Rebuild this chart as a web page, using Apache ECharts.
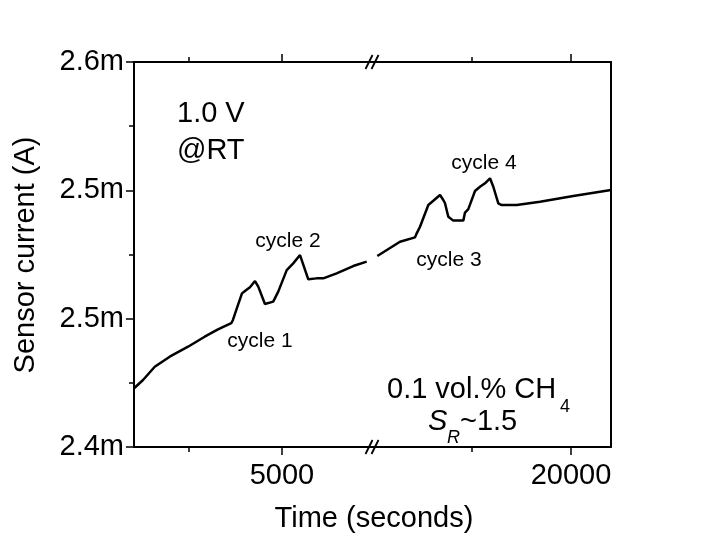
<!DOCTYPE html>
<html>
<head>
<meta charset="utf-8">
<script src="https://cdn.jsdelivr.net/npm/echarts@6/dist/echarts.min.js"></script>
<style>
html,body{margin:0;padding:0;background:#fff;}
#chart{width:707px;height:539px;}
</style>
</head>
<body>
<div id="chart"></div>
<script>
// ---- data (time in seconds, current in mA) ----
const timeLeft = [3410, 3506, 3632, 3793, 3990, 4169, 4312, 4455, 4473, 4509, 4570, 4616, 4656, 4710, 4745, 4817, 4906, 4925, 4960, 5051, 5121, 5194, 5283, 5373, 5444, 5588, 5766, 5911];
const currentLeft = [2.4305, 2.4348, 2.4417, 2.4469, 2.4521, 2.4573, 2.4611, 2.4643, 2.4660, 2.4712, 2.4798, 2.4816, 2.4830, 2.4862, 2.4833, 2.4743, 2.4755, 2.4764, 2.4807, 2.4919, 2.4954, 2.4997, 2.4871, 2.4876, 2.4876, 2.4902, 2.4940, 2.4963];
const timeRight = [10218, 11364, 12122, 12208, 12375, 12794, 13046, 13385, 13551, 13637, 13804, 14056, 14561, 14647, 14814, 15152, 15404, 15657, 15910, 16076, 16329, 16500, 17258, 18435, 20116, 22020];
const currentRight = [2.4992, 2.5066, 2.5089, 2.5110, 2.5144, 2.5257, 2.5279, 2.5309, 2.5283, 2.5266, 2.5196, 2.5176, 2.5176, 2.5218, 2.5236, 2.5330, 2.5352, 2.5370, 2.5396, 2.5352, 2.5266, 2.5257, 2.5257, 2.5274, 2.5304, 2.5335];

const xRangeLeft = [3409, 5968];
const xRangeRight = [9950, 22020];
const xMajorLeft = [5000];
const xMinorLeft = [4000];
const xMajorRight = [20000];
const xMinorRight = [15000];
const yRange = [2.4, 2.6];
const yMajor = [2.4, 2.4 + 0.2 / 3, 2.4 + 0.4 / 3, 2.6];
const yMinor = [2.4 + 0.1 / 3, 2.5, 2.4 + 0.5 / 3];

const annotations = [
  { text: '1.0 V', x: 177, y: 114, size: 29, align: 'left' },
  { text: '@RT', x: 177, y: 151, size: 29, align: 'left' },
  { text: 'cycle 1', x: 260, y: 341, size: 21, align: 'center' },
  { text: 'cycle 2', x: 288, y: 241, size: 21, align: 'center' },
  { text: 'cycle 3', x: 449, y: 260, size: 21, align: 'center' },
  { text: 'cycle 4', x: 484, y: 163, size: 21, align: 'center' },
  { text: '0.1 vol.% CH', x: 387, y: 390, size: 29, align: 'left' },
  { text: '4', x: 560, y: 407, size: 18, align: 'left' },
  { text: 'S', x: 428, y: 422, size: 29, align: 'left', italic: true },
  { text: 'R', x: 447, y: 438, size: 18, align: 'left', italic: true },
  { text: '~1.5', x: 460, y: 422, size: 29, align: 'left' }
];

// ---- layout ----
const FONT = 'Liberation Sans, Arial, sans-serif';
const L = 134, T = 62, H = 385, MID = 372, R = 611;
const lineW = 2;
const black = '#000';

function xAxisDef(grid, pos, range, ticks, len, showLine, labels) {
  return {
    type: 'value', gridIndex: grid, position: pos, min: range[0], max: range[1],
    splitLine: { show: false },
    axisLine: { show: showLine, onZero: false, lineStyle: { color: black, width: lineW } },
    axisTick: { show: true, inside: false, length: len, customValues: ticks, lineStyle: { color: black, width: 1.5 } },
    axisLabel: labels ? { show: true, customValues: ticks, color: black, fontSize: 29, fontFamily: FONT, margin: 14,
      formatter: v => String(v) } : { show: false }
  };
}

const grids = [
  { left: L, top: T, width: MID - L, height: H },
  { left: MID, top: T, width: R - MID, height: H },
  { left: L, top: T, width: MID - L, height: H },
  { left: MID, top: T, width: R - MID, height: H }
];

const xAxes = [
  xAxisDef(0, 'bottom', xRangeLeft, xMajorLeft, 8, true, true),
  xAxisDef(0, 'top', xRangeLeft, xMajorLeft, 8, true, false),
  xAxisDef(1, 'bottom', xRangeRight, xMajorRight, 8, true, true),
  xAxisDef(1, 'top', xRangeRight, xMajorRight, 8, true, false),
  xAxisDef(2, 'bottom', xRangeLeft, xMinorLeft, 5, false, false),
  xAxisDef(2, 'top', xRangeLeft, xMinorLeft, 5, false, false),
  xAxisDef(3, 'bottom', xRangeRight, xMinorRight, 5, false, false),
  xAxisDef(3, 'top', xRangeRight, xMinorRight, 5, false, false)
];

const yAxes = [
  {
    type: 'value', gridIndex: 0, position: 'left', min: yRange[0], max: yRange[1],
    splitLine: { show: false },
    axisLine: { show: true, onZero: false, lineStyle: { color: black, width: lineW } },
    axisTick: { show: true, inside: false, length: 8, customValues: yMajor, lineStyle: { color: black, width: 1.5 } },
    axisLabel: { show: true, customValues: yMajor, color: black, fontSize: 29, fontFamily: FONT, margin: 10,
      formatter: v => v.toFixed(1) + 'm' }
  },
  {
    type: 'value', gridIndex: 1, position: 'right', min: yRange[0], max: yRange[1],
    splitLine: { show: false },
    axisLine: { show: true, onZero: false, lineStyle: { color: black, width: lineW } },
    axisTick: { show: false }, axisLabel: { show: false }
  },
  {
    type: 'value', gridIndex: 2, position: 'left', min: yRange[0], max: yRange[1],
    splitLine: { show: false },
    axisLine: { show: false },
    axisTick: { show: true, inside: false, length: 5, customValues: yMinor, lineStyle: { color: black, width: 1.5 } },
    axisLabel: { show: false }
  },
  {
    type: 'value', gridIndex: 3, position: 'left', min: yRange[0], max: yRange[1],
    show: false
  }
];

const graphics = annotations.map(a => ({
  type: 'text', x: a.x, y: a.y, z: 100,
  style: {
    text: a.text, fill: black, fontSize: a.size, fontFamily: FONT,
    fontStyle: a.italic ? 'italic' : 'normal',
    align: a.align, verticalAlign: 'middle'
  }
}));

// axis titles
graphics.push({
  type: 'text', x: 374, y: 519, z: 100,
  style: { text: 'Time (seconds)', fill: black, fontSize: 29, fontFamily: FONT, align: 'center', verticalAlign: 'middle' }
});
graphics.push({
  type: 'text', x: 26, y: 255, rotation: Math.PI / 2, z: 100,
  style: { text: 'Sensor current (A)', fill: black, fontSize: 29, fontFamily: FONT, align: 'center', verticalAlign: 'middle' }
});

// break marks
[T, T + H].forEach(yy => {
  [-3, 3].forEach(dx => {
    graphics.push({
      type: 'line', z: 100,
      shape: { x1: MID + dx - 3.5, y1: yy + 7, x2: MID + dx + 3.5, y2: yy - 7 },
      style: { stroke: black, lineWidth: 1.8 }
    });
  });
});

const chart = echarts.init(document.getElementById('chart'), null, { renderer: 'canvas' });
chart.setOption({
  animation: false,
  backgroundColor: '#fff',
  grid: grids,
  xAxis: xAxes,
  yAxis: yAxes,
  graphic: graphics,
  series: [
    {
      type: 'line', xAxisIndex: 0, yAxisIndex: 0, showSymbol: false,
      data: timeLeft.map((t, i) => [t, currentLeft[i]]),
      lineStyle: { color: black, width: 2.5 }, itemStyle: { color: black }
    },
    {
      type: 'line', xAxisIndex: 2, yAxisIndex: 1, showSymbol: false,
      data: timeRight.map((t, i) => [t, currentRight[i]]),
      lineStyle: { color: black, width: 2.5 }, itemStyle: { color: black }
    }
  ]
});
</script>
</body>
</html>
